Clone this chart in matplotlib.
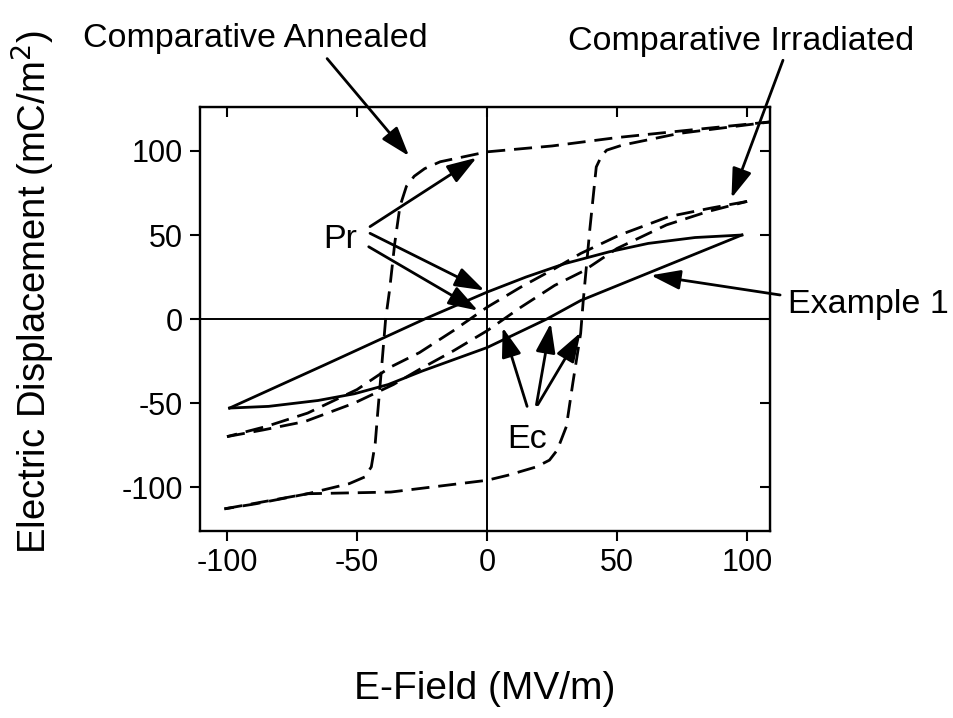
import matplotlib
matplotlib.use("Agg")
import matplotlib.pyplot as plt

plt.rcParams['font.family'] = ['Liberation Sans', 'DejaVu Sans']
plt.rcParams['axes.unicode_minus'] = False

# Example 1 loop (solid)
ex1_up_x = [98, 80, 62, 47, 30, 15, 0, -24, -62, -99]
ex1_up_y = [50, 48.5, 45, 40, 33, 25, 16, 0, -27, -53]
ex1_lo_x = [-99, -84, -65, -51, -38, -25, 0, 23, 36, 98]
ex1_lo_y = [-53, -52, -48.5, -44.5, -39, -31, -17, 0, 11, 50]

# Comparative Irradiated loop (dashed, slim)
irr_up_x = [100, 86, 70, 51, 36, 26, 13, 0, -13, -26, -37, -50, -69, -85, -100]
irr_up_y = [70, 66, 61, 50, 39, 30, 19, 7, -7, -20, -28.5, -42, -56, -64, -70]
irr_lo_x = [-100, -86, -70, -51, -36, -26, -13, 0, 13, 26, 37, 50, 69, 85, 100]
irr_lo_y = [-70, -66, -61, -50, -39, -30, -19, -7, 7, 20, 28.5, 42, 56, 64, 70]

# Comparative Annealed loop (dashed, square)
ann_up_x = [110, 75, 50, 25, 0, -18, -24, -28, -31, -33.5, -35.5, -37.5, -39,
            -40.5, -42, -43, -44.5, -47, -53, -69, -89, -101]
ann_up_y = [117.5, 112, 108, 103, 99.5, 93.6, 89.5, 85, 79, 67, 45, 17, 0,
            -28, -55, -74, -88, -94, -98, -104, -110, -113]
ann_lo_x = [-101, -69, -37, 0, 8, 19, 24, 27, 30.5, 33, 36, 37, 39.5, 42,
            44, 46, 52, 74, 110]
ann_lo_y = [-113, -104, -103, -96, -93, -88, -84, -78, -64, -38, -8.5, 11,
            53, 90.5, 97, 100.5, 103.5, 110.5, 117.5]

xticks = [-100, -50, 0, 50, 100]
yticks = [-100, -50, 0, 50, 100]

fig = plt.figure(figsize=(9.54, 7.18), dpi=100)
ax = fig.add_axes([0.2096, 0.2604, 0.5975, 0.5906])

lw = 2.0
dash = (6.5, 3.2)
ax.plot(ex1_up_x, ex1_up_y, color='black', lw=lw)
ax.plot(ex1_lo_x, ex1_lo_y, color='black', lw=lw)
ax.plot(irr_up_x, irr_up_y, color='black', lw=lw, dashes=dash)
ax.plot(irr_lo_x, irr_lo_y, color='black', lw=lw, dashes=dash)
ax.plot(ann_up_x, ann_up_y, color='black', lw=lw, dashes=dash)
ax.plot(ann_lo_x, ann_lo_y, color='black', lw=lw, dashes=dash)

ax.axhline(0, color='black', lw=1.4)
ax.axvline(0, color='black', lw=1.4)

ax.set_xlim(-110.4, 108.8)
ax.set_ylim(-126.2, 126.2)
ax.set_xticks(xticks)
ax.set_yticks(yticks)
ax.tick_params(direction='out', length=7, width=1.5, labelsize=22, pad=5)
for s in ax.spines.values():
    s.set_linewidth(1.7)
# mirrored inward ticks on top and right
ax_t = ax.secondary_xaxis('top')
ax_t.set_xticks(xticks)
ax_t.tick_params(direction='in', length=7, width=1.5, labeltop=False)
ax_r = ax.secondary_yaxis('right')
ax_r.set_yticks(yticks)
ax_r.tick_params(direction='in', length=7, width=1.5, labelright=False)

ax.set_xlabel('E-Field (MV/m)', fontsize=28)
ax.xaxis.set_label_coords(0.5, -0.33)
ax.set_ylabel('Electric Displacement (mC/m$^2$)', fontsize=27.5)
ax.yaxis.set_label_coords(-0.25, 0.564)

arr = dict(arrowstyle='-|>,head_length=0.9,head_width=0.3', color='black',
           lw=2, shrinkA=0, shrinkB=0, mutation_scale=20)

fs = 24.5
ax.text(-89.2, 162, 'Comparative Annealed', fontsize=fs, ha='center', va='baseline')
ax.annotate('', xy=(-30, 97), xytext=(-61.5, 155), arrowprops=arr, annotation_clip=False)

ax.text(97.7, 160, 'Comparative Irradiated', fontsize=fs, ha='center', va='baseline')
ax.annotate('', xy=(94, 72), xytext=(113.8, 154), arrowprops=arr, annotation_clip=False)

ax.text(146.5, 3.6, 'Example 1', fontsize=fs, ha='center', va='baseline')
ax.annotate('', xy=(63, 26), xytext=(112.7, 14.3), arrowprops=arr, annotation_clip=False)

ax.text(-56.5, 42, 'Pr', fontsize=fs, ha='center', va='baseline')
ax.annotate('', xy=(-4, 96), xytext=(-45, 55), arrowprops=arr)
ax.annotate('', xy=(-1, 17), xytext=(-45, 51), arrowprops=arr)
ax.annotate('', xy=(-3.5, 5), xytext=(-45.5, 43), arrowprops=arr)

ax.text(15.4, -76.8, 'Ec', fontsize=fs, ha='center', va='baseline')
ax.annotate('', xy=(6, -5), xytext=(15.4, -52), arrowprops=arr)
ax.annotate('', xy=(24.5, -2.5), xytext=(19, -51), arrowprops=arr)
ax.annotate('', xy=(36, -8), xytext=(19.5, -51), arrowprops=arr)

fig.savefig('out.png', dpi=100)
